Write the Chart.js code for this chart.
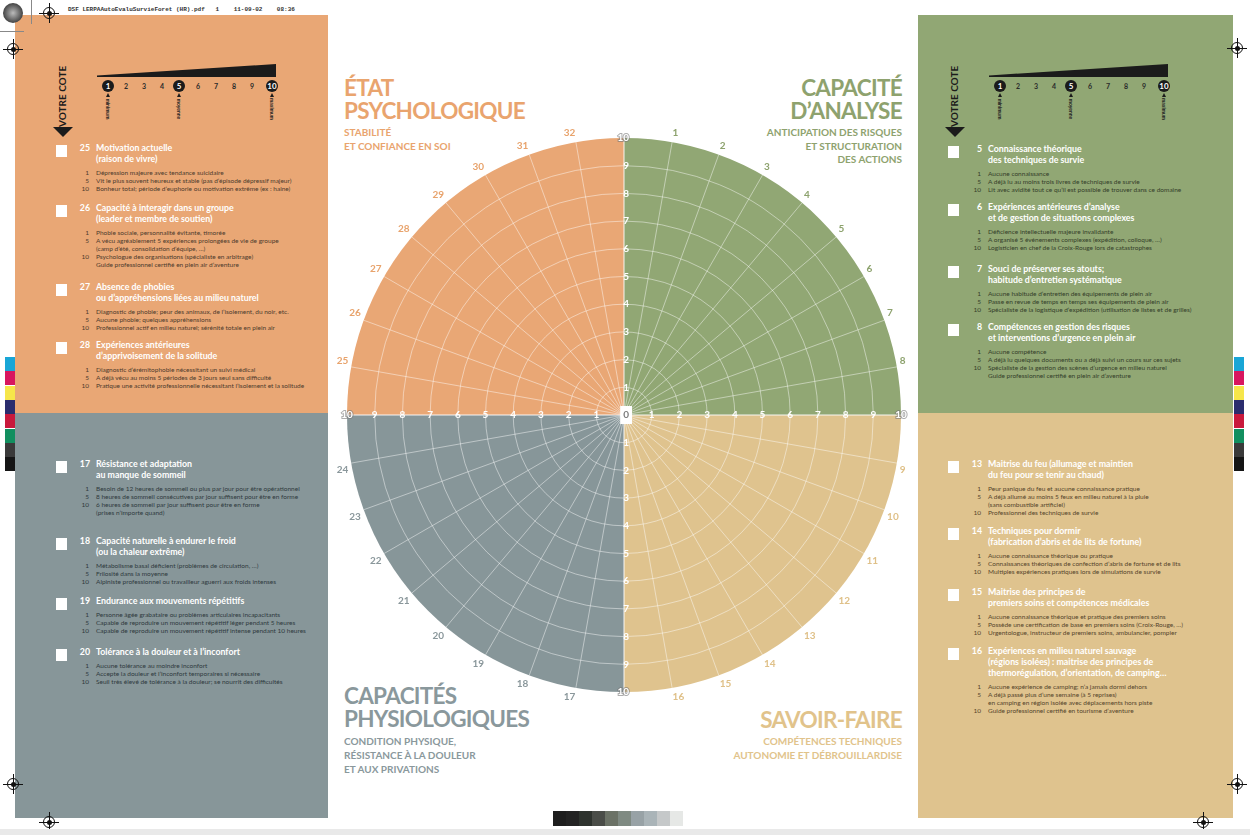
<!DOCTYPE html>
<html lang="fr">
<head>
<meta charset="utf-8">
<title>Votre cote – auto-évaluation survie en forêt</title>
<script src="https://cdn.jsdelivr.net/npm/chart.js@4.4.1/dist/chart.umd.min.js"></script>
<style>
  html, body { margin: 0; padding: 0; background: #fff; }
  body { position: relative; width: 1250px; height: 835px; overflow: hidden; font-family: Lato, 'Open Sans', sans-serif; }
  .box { position: absolute; white-space: nowrap; }
  .panel { position: absolute; }
  .head { font-size: 8.8px; font-weight: 700; color: #fff; line-height: 10px; }
  .row { font-size: 6.5px; line-height: 8px; }
  .title { position: absolute; font-weight: 700; font-size: 22.5px; line-height: 23px; letter-spacing: -0.7px; white-space: nowrap; }
  .sub { position: absolute; font-weight: 700; font-size: 10px; line-height: 13.8px; white-space: nowrap; }
  #chartBox { position: absolute; left: 330px; top: 123px; width: 584px; height: 584px; }
</style>
</head>
<body>
<div class="panel" style="left:15px;top:15px;width:313px;height:398px;background:#e9a775"></div>
<div class="panel" style="left:15px;top:413px;width:313px;height:405px;background:#879699"></div>
<div class="panel" style="left:918px;top:15px;width:315px;height:398px;background:#91a774"></div>
<div class="panel" style="left:918px;top:413px;width:315px;height:405px;background:#dfc38e"></div>

<div class="title" style="left:344px;top:76px;color:#e9a46e">ÉTAT<br>PSYCHOLOGIQUE</div>
<div class="sub" style="left:344px;top:126px;color:#e9a46e">STABILITÉ<br>ET CONFIANCE EN SOI</div>
<div class="title" style="right:348px;top:76px;text-align:right;color:#8ea26e">CAPACITÉ<br>D’ANALYSE</div>
<div class="sub" style="right:348px;top:126px;text-align:right;color:#8ea26e;line-height:13.5px">ANTICIPATION DES RISQUES<br>ET STRUCTURATION<br>DES ACTIONS</div>
<div class="title" style="left:344px;top:684px;color:#8a989c">CAPACITÉS<br>PHYSIOLOGIQUES</div>
<div class="sub" style="left:344px;top:735px;color:#8a989c">CONDITION PHYSIQUE,<br>RÉSISTANCE À LA DOULEUR<br>ET AUX PRIVATIONS</div>
<div class="title" style="right:348px;top:708px;text-align:right;color:#e1c38b">SAVOIR-FAIRE</div>
<div class="sub" style="right:348px;top:735px;text-align:right;color:#e1c38b">COMPÉTENCES TECHNIQUES<br>AUTONOMIE ET DÉBROUILLARDISE</div>

<div class="box" style="left:68px;top:6px;font:bold 6px 'Liberation Mono',monospace;color:#333">DSF LERPAAutoEvaluSurvieForet (HR).pdf&nbsp;&nbsp;&nbsp;1&nbsp;&nbsp;&nbsp;&nbsp;11-09-02&nbsp;&nbsp;&nbsp;&nbsp;08:36</div>

<div id="chartBox"><canvas id="chart" width="584" height="584"></canvas></div>

<script>
'use strict';
// Chart data: four domains filling the disc, 36 spokes (4 axes + 32 numbered criteria), rings 0 to 10
const domains = ['Capacité d’analyse', 'Savoir-faire', 'Capacités physiologiques', 'État psychologique'];
const domainMax = [10, 10, 10, 10];
const domainColors = ['#91a774', '#dfc38e', '#879699', '#e9a775'];
const labelColors = ['#8da26d', '#dfc088', '#8a979b', '#e8a36c'];
const spokeLabels = ['', '1', '2', '3', '4', '5', '6', '7', '8',
                     '', '9', '10', '11', '12', '13', '14', '15', '16',
                     '', '17', '18', '19', '20', '21', '22', '23', '24',
                     '', '25', '26', '27', '28', '29', '30', '31', '32'];
const ringTicks = [0, 1, 2, 3, 4, 5, 6, 7, 8, 9, 10];
const xTicks = [-10, -9, -8, -7, -6, -5, -4, -3, -2, -1, 1, 2, 3, 4, 5, 6, 7, 8, 9, 10];
const yTicks = [-10, -9, -8, -7, -6, -5, -4, -3, -2, -1, 0, 1, 2, 3, 4, 5, 6, 7, 8, 9, 10];
const scaleSteps = [1, 2, 3, 4, 5, 6, 7, 8, 9, 10];
const scaleStepX = [108, 126, 144, 162, 179, 198, 216, 234, 252, 272];
const scaleMarks = {1: 'minimum', 5: 'moyenne', 10: 'maximum'};

// Criteria text of the four side panels
const itemsPsy = [
  {n: '25', y: 148, head: ['Motivation actuelle', '(raison de vivre)'], rows: [
    ['1', 'Dépression majeure avec tendance suicidaire'],
    ['5', 'Vit le plus souvent heureux et stable (pas d’épisode dépressif majeur)'],
    ['10', 'Bonheur total; période d’euphorie ou motivation extrême (ex : haine)']]},
  {n: '26', y: 208, head: ['Capacité à interagir dans un groupe', '(leader et membre de soutien)'], rows: [
    ['1', 'Phobie sociale, personnalité évitante, timorée'],
    ['5', 'A vécu agréablement 5 expériences prolongées de vie de groupe'],
    ['', '(camp d’été, consolidation d’équipe, …)'],
    ['10', 'Psychologue des organisations (spécialiste en arbitrage)'],
    ['', 'Guide professionnel certifié en plein air d’aventure']]},
  {n: '27', y: 287, head: ['Absence de phobies', 'ou d’appréhensions liées au milieu naturel'], rows: [
    ['1', 'Diagnostic de phobie; peur des animaux, de l’isolement, du noir, etc.'],
    ['5', 'Aucune phobie; quelques appréhensions'],
    ['10', 'Professionnel actif en milieu naturel; sérénité totale en plein air']]},
  {n: '28', y: 345, head: ['Expériences antérieures', 'd’apprivoisement de la solitude'], rows: [
    ['1', 'Diagnostic d’érémitophobie nécessitant un suivi médical'],
    ['5', 'A déjà vécu au moins 5 périodes de 3 jours seul sans difficulté'],
    ['10', 'Pratique une activité professionnelle nécessitant l’isolement et la solitude']]}
];
const itemsPhy = [
  {n: '17', y: 464, head: ['Résistance et adaptation', 'au manque de sommeil'], rows: [
    ['1', 'Besoin de 12 heures de sommeil ou plus par jour pour être opérationnel'],
    ['5', '8 heures de sommeil consécutives par jour suffisent pour être en forme'],
    ['10', '6 heures de sommeil par jour suffisent  pour être en forme'],
    ['', '(prises n’importe quand)']]},
  {n: '18', y: 541, head: ['Capacité naturelle à endurer le froid', '(ou la chaleur extrême)'], rows: [
    ['1', 'Métabolisme basal déficient (problèmes de circulation, …)'],
    ['5', 'Frilosité dans la moyenne'],
    ['10', 'Alpiniste professionnel ou travailleur aguerri aux froids intenses']]},
  {n: '19', y: 601, head: ['Endurance aux mouvements répétitifs'], rows: [
    ['1', 'Personne âgée grabataire ou problèmes articulaires incapacitants'],
    ['5', 'Capable de reproduire un mouvement répétitif léger pendant 5 heures'],
    ['10', 'Capable de reproduire un mouvement répétitif intense pendant 10 heures']]},
  {n: '20', y: 652, head: ['Tolérance à la douleur et à l’inconfort'], rows: [
    ['1', 'Aucune tolérance au moindre inconfort'],
    ['5', 'Accepte la douleur et l’inconfort temporaires si nécessaire'],
    ['10', 'Seuil très élevé de tolérance à la douleur; se nourrit des difficultés']]}
];
const itemsAna = [
  {n: '5', y: 149, head: ['Connaissance théorique', 'des techniques de survie'], rows: [
    ['1', 'Aucune connaissance'],
    ['5', 'A déjà lu au moins trois livres de techniques de survie'],
    ['10', 'Lit avec avidité tout ce qu’il est possible de trouver dans ce domaine']]},
  {n: '6', y: 207, head: ['Expériences antérieures d’analyse', 'et de gestion de situations complexes'], rows: [
    ['1', 'Déficience intellectuelle majeure invalidante'],
    ['5', 'A organisé 5 événements complexes (expédition, colloque, …)'],
    ['10', 'Logisticien en chef de la Croix-Rouge lors de catastrophes']]},
  {n: '7', y: 269, head: ['Souci de préserver ses atouts;', 'habitude d’entretien systématique'], rows: [
    ['1', 'Aucune habitude d’entretien des équipements de plein air'],
    ['5', 'Passe en revue de temps en temps ses équipements de plein air'],
    ['10', 'Spécialiste de la logistique d’expédition (utilisation de listes et de grilles)']]},
  {n: '8', y: 327, head: ['Compétences en gestion des risques', 'et interventions d’urgence en plein air'], rows: [
    ['1', 'Aucune compétence'],
    ['5', 'A déjà lu quelques documents ou a déjà suivi un cours sur ces sujets'],
    ['10', 'Spécialiste de la gestion des scènes d’urgence en milieu naturel'],
    ['', 'Guide professionnel certifié en plein air d’aventure']]}
];
const itemsSav = [
  {n: '13', y: 464, head: ['Maitrise du feu  (allumage et maintien', 'du feu pour se tenir au chaud)'], rows: [
    ['1', 'Peur panique du feu et aucune connaissance pratique'],
    ['5', 'A déjà allumé au moins 5 feux en milieu naturel à la pluie'],
    ['', '(sans combustible artificiel)'],
    ['10', 'Professionnel des techniques de survie']]},
  {n: '14', y: 531, head: ['Techniques pour dormir', '(fabrication d’abris et de lits de fortune)'], rows: [
    ['1', 'Aucune connaissance théorique ou pratique'],
    ['5', 'Connaissances théoriques de confection d’abris de fortune et de lits'],
    ['10', 'Multiples expériences pratiques lors de simulations de survie']]},
  {n: '15', y: 592, head: ['Maitrise des principes de', 'premiers soins et compétences médicales'], rows: [
    ['1', 'Aucune connaissance théorique et pratique des premiers soins'],
    ['5', 'Possède une certification de base en premiers soins (Croix-Rouge, …)'],
    ['10', 'Urgentologue, instructeur de premiers soins, ambulancier, pompier']]},
  {n: '16', y: 651, head: ['Expériences en milieu naturel sauvage', '(régions isolées) : maitrise des principes de', 'thermorégulation, d’orientation, de camping…'], rows: [
    ['1', 'Aucune expérience de camping; n’a jamais dormi dehors'],
    ['5', 'A déjà passé plus d’une semaine (à 5 reprises)'],
    ['', 'en camping en région isolée avec déplacements hors piste'],
    ['10', 'Guide professionnel certifié en tourisme d’aventure']]}
];

// small helper to drop a positioned block on the page
function add(html, css, cls) {
  const d = document.createElement('div');
  d.className = cls || 'box';
  d.innerHTML = html;
  Object.assign(d.style, css);
  document.body.appendChild(d);
  return d;
}

function renderItems(list, ox, rowColor) {
  list.forEach(it => {
    add('', {left: (ox + 56) + 'px', top: (it.y - 3) + 'px', width: '11px', height: '12px', background: '#fff'});
    it.head.forEach((h, i) => {
      const top = (it.y + i * 11 - 5) + 'px';
      if (i === 0) add(it.n, {left: (ox + 70) + 'px', top: top, width: '20px', textAlign: 'right'}, 'box head');
      add(h, {left: (ox + 96) + 'px', top: top}, 'box head');
    });
    const ry = it.y + (it.head.length - 1) * 11 + 14;
    it.rows.forEach((r, j) => {
      const top = (ry + j * 8 - 4) + 'px';
      if (r[0]) add(r[0], {left: (ox + 69) + 'px', top: top, width: '20px', textAlign: 'right', color: rowColor}, 'box row');
      add(r[1], {left: (ox + 96) + 'px', top: top, color: rowColor}, 'box row');
    });
  });
}

// "votre cote" rating ruler drawn at the top of the two upper panels
function renderRuler(ox) {
  add('', {left: (ox + 97) + 'px', top: '64px', width: '179px', height: '13px', background: '#1b1b1b',
           clipPath: 'polygon(0 88%, 100% 0, 100% 100%, 0 100%)'});
  scaleSteps.forEach((s, i) => {
    const cx = ox + scaleStepX[i];
    if (scaleMarks[s]) {
      add(String(s), {left: (cx - 6) + 'px', top: '80px', width: '12px', height: '12px', borderRadius: '50%',
        background: '#1b1b1b', color: '#fff', font: 'bold 8px Lato', lineHeight: '12px', textAlign: 'center'});
      add('', {left: (cx - 2.5) + 'px', top: '93px', width: 0, height: 0, borderLeft: '2.5px solid transparent',
        borderRight: '2.5px solid transparent', borderBottom: '4px solid #1b1b1b'});
      add(scaleMarks[s], {left: (cx - 12) + 'px', top: '106px', width: '24px', textAlign: 'center',
        font: 'bold 5px Lato', color: '#222', transform: 'rotate(90deg)'});
    } else {
      add(String(s), {left: (cx - 6) + 'px', top: '80px', width: '12px', textAlign: 'center',
        font: 'bold 7px Lato', lineHeight: '12px', color: '#2a2a2a'});
    }
  });
  add('VOTRE COTE', {left: (ox + 62 - 30) + 'px', top: '91px', width: '60px', textAlign: 'center',
    font: 'bold 10px Lato', lineHeight: '12px', color: '#1b1b1b', transform: 'rotate(-90deg)'});
  add('', {left: (ox + 53) + 'px', top: '127px', width: 0, height: 0, borderLeft: '10px solid transparent',
    borderRight: '10px solid transparent', borderTop: '10px solid #1b1b1b'});
}

renderRuler(0);
renderRuler(892);
renderItems(itemsPsy, 0, '#4d3b2d');
renderItems(itemsPhy, 0, '#2f3a3e');
renderItems(itemsAna, 892, '#34402a');
renderItems(itemsSav, 892, '#55452c');

// print marks around the sheet
function target(cx, cy) {
  add('', {left: (cx - 6) + 'px', top: (cy - 6) + 'px', width: '10px', height: '10px', border: '1.2px solid #111', borderRadius: '50%'});
  add('', {left: (cx - 10) + 'px', top: (cy - 0.5) + 'px', width: '20px', height: '1px', background: '#111'});
  add('', {left: (cx - 0.5) + 'px', top: (cy - 10) + 'px', width: '1px', height: '20px', background: '#111'});
  add('', {left: (cx - 2.5) + 'px', top: (cy - 2.5) + 'px', width: '5px', height: '5px', background: '#111', borderRadius: '50%'});
}
add('', {left: '3px', top: '3px', width: '20px', height: '20px', borderRadius: '50%', background: 'radial-gradient(#bbb, #444 70%)'});
add('', {left: '31px', top: '0px', width: '1px', height: '24px', background: '#888'});
add('', {left: '0px', top: '31px', width: '24px', height: '1px', background: '#888'});
[[49, 13], [13, 49], [1237, 48], [1237, 784], [13, 784], [49, 822], [1203, 822]].forEach(p => target(p[0], p[1]));
const bars = ['#19a6d6', '#d8175f', '#f6e64a', '#2b2d6e', '#c9193c', '#128f5f', '#3a3a3a', '#151515'];
bars.forEach((c, i) => {
  add('', {left: '5px', top: (357 + i * 14.3) + 'px', width: '10px', height: '14px', background: c});
  add('', {left: '1234px', top: (357 + i * 14.3) + 'px', width: '10px', height: '14px', background: c});
});
const greys = ['#1e1e1e', '#232323', '#2e332e', '#4a4d48', '#6b7266', '#7f8a82', '#98a2a6', '#aab4b8', '#c5c8c9', '#e6e8e6'];
greys.forEach((c, i) => add('', {left: (553 + i * 13) + 'px', top: '811px', width: '12.5px', height: '15px', background: c}));
add('', {left: '0px', top: '829px', width: '1250px', height: '6px', background: '#e9e9e9'});

// keep the straight 0-10 axes on the same centre and radius as the round scale
function alignAxes(r) {
  const {x, y} = r.chart.scales;
  const k = 10 / r.drawingArea;
  x.min = (x.left - r.xCenter) * k;
  x.max = (x.right - r.xCenter) * k;
  y.min = (r.yCenter - y.bottom) * k;
  y.max = (r.yCenter - y.top) * k;
}

const tickFont = {family: 'Lato', size: 10, weight: 'bold'};
// the two "10" labels at each end straddle the disc edge: a soft outline keeps them legible on white
const edgeStroke = c => Math.abs(c.tick.value) === 10 ? 'rgba(120,120,120,0.6)' : '';
const edgeStrokeWidth = c => Math.abs(c.tick.value) === 10 ? 2 : 0;

new Chart(document.getElementById('chart'), {
  type: 'polarArea',
  data: {
    labels: spokeLabels,
    datasets: [{label: 'Domaines', data: domainMax, backgroundColor: domainColors, borderWidth: 0}]
  },
  options: {
    responsive: false,
    animation: false,
    layout: {padding: 0},
    plugins: {legend: {display: false}, tooltip: {enabled: false}},
    scales: {
      r: {
        min: 0, max: 10, startAngle: 0,
        afterBuildTicks: s => { s.ticks = ringTicks.map(v => ({value: v})); },
        afterUpdate: alignAxes,
        ticks: {display: false, z: 1},
        grid: {circular: true, z: 1, lineWidth: 1,
               color: c => c.tick && c.tick.value === 10 ? 'rgba(0,0,0,0)' : 'rgba(255,255,255,0.45)'},
        angleLines: {display: true, lineWidth: 1,
                     color: c => c.index % 9 === 0 ? 'rgba(255,255,255,0.9)' : 'rgba(255,255,255,0.45)'},
        pointLabels: {display: true, padding: 3, font: tickFont,
                      color: c => labelColors[Math.floor(c.index / 9)]}
      },
      x: {
        type: 'linear', position: 'center', min: -10, max: 10,
        afterBuildTicks: s => { s.ticks = xTicks.map(v => ({value: v})); },
        afterFit: s => { s.height = 0; },
        grid: {display: false, drawTicks: false},
        border: {display: false},
        ticks: {z: 2, autoSkip: false, maxRotation: 0, padding: -6, color: '#fff', font: tickFont,
                textStrokeColor: edgeStroke, textStrokeWidth: edgeStrokeWidth,
                callback: v => String(Math.abs(v))}
      },
      y: {
        type: 'linear', position: 'center', min: -10, max: 10,
        afterBuildTicks: s => { s.ticks = yTicks.map(v => ({value: v})); },
        afterFit: s => { s.width = 0; },
        grid: {display: false, drawTicks: false},
        border: {display: false},
        ticks: {z: 2, autoSkip: false, padding: -7, font: tickFont,
                color: c => c.tick.value === 0 ? '#7d7d7d' : '#fff',
                textStrokeColor: edgeStroke, textStrokeWidth: edgeStrokeWidth,
                showLabelBackdrop: c => c.tick.value === 0, backdropColor: '#fff', backdropPadding: 3,
                callback: v => String(Math.abs(v))}
      }
    }
  }
});
</script>
</body>
</html>
